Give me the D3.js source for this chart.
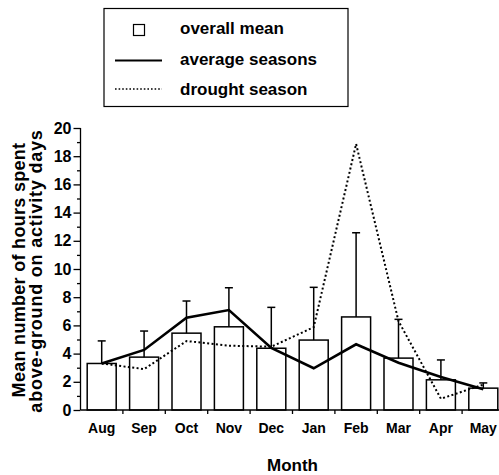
<!DOCTYPE html>
<html>
<head>
<meta charset="utf-8">
<script src="https://cdn.jsdelivr.net/npm/d3@7"></script>
<style>
  html, body { margin: 0; padding: 0; background: #fff; }
  svg { display: block; }
  text { font-family: "Liberation Sans", Arial, Helvetica, sans-serif; font-weight: bold; fill: #000; }
</style>
</head>
<body>
<svg id="chart" width="499" height="475"></svg>
<script>
// Monthly activity data (hours above ground on activity days)
const months = ["Aug", "Sep", "Oct", "Nov", "Dec", "Jan", "Feb", "Mar", "Apr", "May"];
const overallMean = [3.3, 3.75, 5.45, 5.9, 4.38, 4.96, 6.6, 3.68, 2.14, 1.55];
const overallUpper = [4.9, 5.6, 7.73, 8.67, 7.28, 8.7, 12.57, 6.43, 3.55, 1.92];
const averageSeasons = [3.3, 4.26, 6.55, 7.09, 4.4, 2.96, 4.66, 3.35, 2.34, 1.47];
const droughtSeason = [3.3, 2.9, 4.89, 4.56, 4.49, 5.87, 18.87, 6.3, 0.8, 1.8];
const yTicks = [0, 2, 4, 6, 8, 10, 12, 14, 16, 18, 20];

const svg = d3.select("#chart");

const x = d3.scaleBand()
  .domain(months)
  .range([80.5, 504.5])
  .paddingInner(0.316)
  .paddingOuter(0.158);

const y = d3.scaleLinear().domain([0, 20]).range([410, 128]);

const cx = m => x(m) + x.bandwidth() / 2;

// Bars for the overall mean
svg.append("g").selectAll("rect")
  .data(months)
  .join("rect")
  .attr("x", m => x(m))
  .attr("y", (m, i) => y(overallMean[i]))
  .attr("width", x.bandwidth())
  .attr("height", (m, i) => y(0) - y(overallMean[i]))
  .attr("fill", "#fff")
  .attr("stroke", "#000")
  .attr("stroke-width", 1.5);

// Upper error whiskers with caps
const err = svg.append("g").attr("stroke", "#000").attr("stroke-width", 1.5);
months.forEach((m, i) => {
  err.append("line")
    .attr("x1", cx(m)).attr("x2", cx(m))
    .attr("y1", y(overallMean[i])).attr("y2", y(overallUpper[i]));
  err.append("line")
    .attr("x1", cx(m) - 4).attr("x2", cx(m) + 4)
    .attr("y1", y(overallUpper[i])).attr("y2", y(overallUpper[i]));
});

// Season lines
const line = d3.line().x((d, i) => cx(months[i])).y(d => y(d));

svg.append("path")
  .datum(droughtSeason)
  .attr("d", line)
  .attr("fill", "none")
  .attr("stroke", "#000")
  .attr("stroke-width", 2)
  .attr("stroke-dasharray", "2,2.4");

svg.append("path")
  .datum(averageSeasons)
  .attr("d", line)
  .attr("fill", "none")
  .attr("stroke", "#000")
  .attr("stroke-width", 2.6)
  .attr("stroke-linejoin", "miter");

// Y axis with major (labelled) and minor ticks
const yAxis = svg.append("g").attr("transform", "translate(80.5,0)");
yAxis.call(d3.axisLeft(y).tickValues(yTicks).tickSize(7).tickPadding(2).tickFormat(d3.format("d")))
  .call(g => g.select(".domain").attr("stroke-width", 1.3).attr("d", `M0,${y(20)}V${y(0)}`))
  .call(g => g.selectAll(".tick line").attr("stroke-width", 1.3))
  .call(g => g.selectAll(".tick text").attr("font-size", 16).attr("font-family", null));
yAxis.append("g")
  .call(d3.axisLeft(y).tickValues(d3.range(1, 20, 2)).tickSize(3.5).tickFormat(""))
  .call(g => g.select(".domain").remove())
  .call(g => g.selectAll(".tick line").attr("stroke-width", 1.3));

// X axis: ticks at the category boundaries
const xAxis = svg.append("g").attr("transform", "translate(0,410)");
xAxis.append("line")
  .attr("x1", 80.5).attr("x2", 504.5)
  .attr("stroke", "#000").attr("stroke-width", 1.3);
xAxis.selectAll("line.tk")
  .data(d3.range(1, months.length))
  .join("line")
  .attr("class", "tk")
  .attr("x1", i => 80.5 + x.step() * i)
  .attr("x2", i => 80.5 + x.step() * i)
  .attr("y1", 0).attr("y2", 4)
  .attr("stroke", "#000").attr("stroke-width", 1.3);
xAxis.selectAll("text")
  .data(months)
  .join("text")
  .attr("x", m => cx(m))
  .attr("y", 23)
  .attr("text-anchor", "middle")
  .attr("font-size", 14)
  .text(m => m);

// Axis titles
svg.append("text")
  .attr("x", 292.5).attr("y", 471)
  .attr("text-anchor", "middle")
  .attr("font-size", 17)
  .text("Month");

const yTitle = svg.append("g").attr("font-size", 18);
yTitle.append("text")
  .attr("transform", "translate(25,270) rotate(-90)")
  .attr("text-anchor", "middle")
  .attr("letter-spacing", 0.3)
  .text("Mean number of hours spent");
yTitle.append("text")
  .attr("transform", "translate(41.5,271) rotate(-90)")
  .attr("text-anchor", "middle")
  .attr("letter-spacing", 0.8)
  .text("above-ground on activity days");

// Legend
const legend = svg.append("g");
legend.append("rect")
  .attr("x", 104).attr("y", 8.5).attr("width", 244).attr("height", 98)
  .attr("fill", "#fff").attr("stroke", "#000").attr("stroke-width", 1.2);
legend.append("rect")
  .attr("x", 133.5).attr("y", 24.5).attr("width", 11).attr("height", 11)
  .attr("fill", "#fff").attr("stroke", "#000").attr("stroke-width", 1.2);
legend.append("line")
  .attr("x1", 115).attr("x2", 162).attr("y1", 60.5).attr("y2", 60.5)
  .attr("stroke", "#000").attr("stroke-width", 2);
legend.append("line")
  .attr("x1", 115).attr("x2", 162).attr("y1", 89).attr("y2", 89)
  .attr("stroke", "#000").attr("stroke-width", 1.5).attr("stroke-dasharray", "1.6,2");
const labels = ["overall mean", "average seasons", "drought season"];
const baselines = [33.5, 65, 95];
legend.selectAll("text.lg")
  .data(labels)
  .join("text")
  .attr("class", "lg")
  .attr("x", 180)
  .attr("y", (d, i) => baselines[i])
  .attr("font-size", 17)
  .text(d => d);
</script>
</body>
</html>
